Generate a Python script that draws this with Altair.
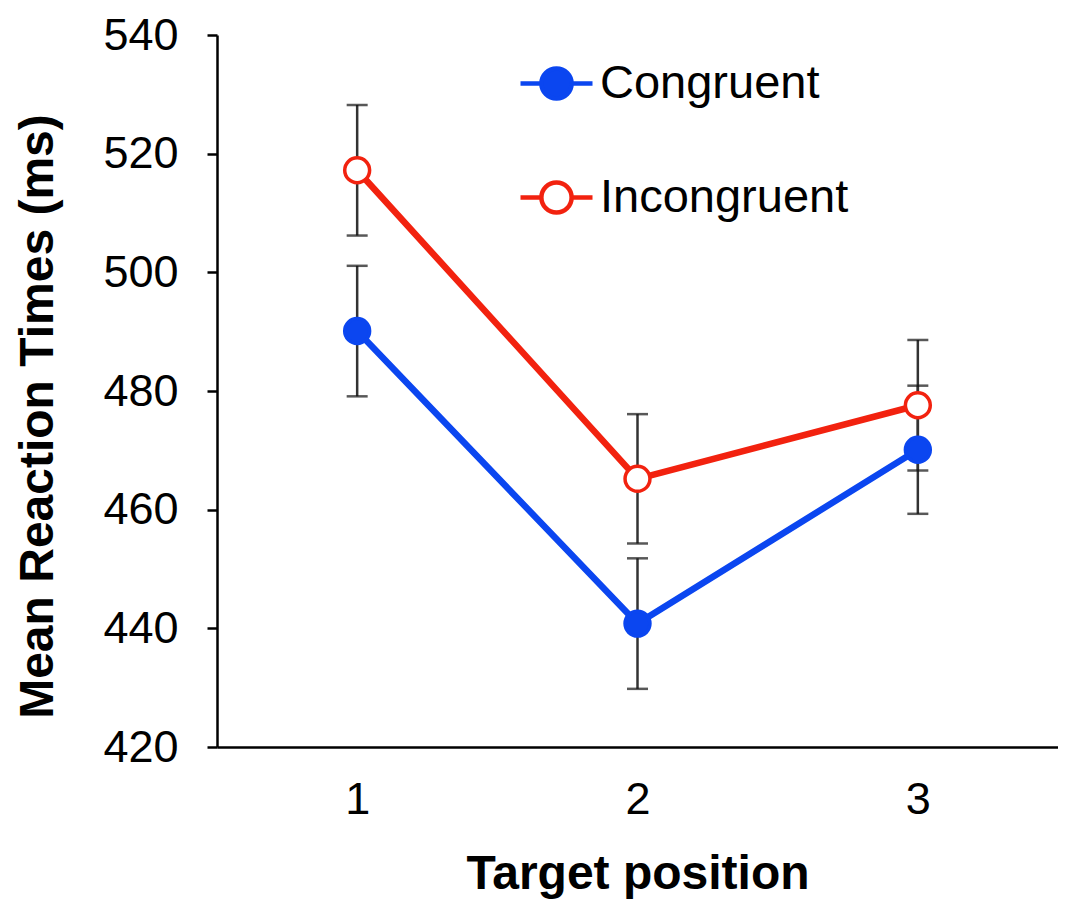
import altair as alt
import pandas as pd

positions = [1, 2, 3]
series_names = ["Congruent", "Incongruent"]
congruent_rt = [490.1, 440.8, 470.1]
incongruent_rt = [517.2, 465.2, 477.6]
congruent_err = [11.0, 11.0, 10.8]
incongruent_err = [11.0, 10.9, 11.0]
y_ticks = [420, 440, 460, 480, 500, 520, 540]
x_ticks = [1, 2, 3]

BLUE = "#0b46f0"
RED = "#f2220f"

PAD_TOP = 27
PLOT_H = 747 - 8 - PAD_TOP

rows = []
for name, vals, errs in [("Congruent", congruent_rt, congruent_err),
                         ("Incongruent", incongruent_rt, incongruent_err)]:
    for p, v, e in zip(positions, vals, errs):
        rows.append({"pos": p, "series": name, "rt": v, "lo": v - e, "hi": v + e})
df = pd.DataFrame(rows)

yscale = alt.Scale(domain=[420, 540], nice=False, zero=False)
x = alt.X("pos:Q", scale=alt.Scale(domain=[0.5, 3.5], nice=False, zero=False),
          axis=alt.Axis(values=x_ticks, format="d", title="Target position", ticks=False,
                        tickSize=0, labelPadding=30, titlePadding=28, grid=False))
y = alt.Y("rt:Q", scale=yscale,
          axis=alt.Axis(values=y_ticks, title="Mean Reaction Times (ms)", tickSize=10,
                        labelPadding=29, titlePadding=40, grid=False,
                        titleY=416 - 8 - PAD_TOP))

color_scale = alt.Scale(domain=series_names, range=[BLUE, RED])
fill_scale = alt.Scale(domain=series_names, range=[BLUE, "#ffffff"])

legend_path = ("M-1,0L-0.42,0M0.42,0L1,0"
               "M0.42,0A0.42,0.42 0 1,1 -0.42,0A0.42,0.42 0 1,1 0.42,0Z")
leg = alt.Legend(title=None, orient="none", legendX=301, legendY=20 - (PAD_TOP - 17),
                 symbolType=legend_path, symbolSize=5184,
                 symbolStrokeWidth=4.5, labelFontSize=47,
                 labelFont="Liberation Sans", labelColor="#000000",
                 labelOffset=5, rowPadding=51, labelLimit=400)

base = alt.Chart(df)

err_rule = base.mark_rule(color="#333333", strokeWidth=2.5).encode(
    x=x, y=alt.Y("lo:Q", scale=yscale), y2="hi:Q")
err_lo = base.mark_tick(color="#111111", thickness=2.5, size=21, orient="horizontal").encode(
    x="pos:Q", y="lo:Q")
err_hi = base.mark_tick(color="#111111", thickness=2.5, size=21, orient="horizontal").encode(
    x="pos:Q", y="hi:Q")

lines = base.mark_line(strokeWidth=6.5).encode(
    x=x, y=y,
    stroke=alt.Stroke("series:N", scale=color_scale, legend=leg),
    detail="series:N",
)

points = base.mark_point(size=620, strokeWidth=3.5, opacity=1, filled=False).encode(
    x=x, y=y,
    stroke=alt.Stroke("series:N", scale=color_scale, legend=leg),
    fill=alt.Fill("series:N", scale=fill_scale, legend=leg),
)

chart = alt.layer(err_rule, err_lo, err_hi, lines, points).properties(
    width=841, height=PLOT_H,
    autosize=alt.AutoSizeParams(type="none"),
    padding={"left": 209, "top": PAD_TOP, "right": 0, "bottom": 164},
).configure_view(stroke=None).configure_axis(
    domainColor="#000000", domainWidth=2.5, tickColor="#000000", tickWidth=2.5,
    labelFont="Liberation Sans", labelFontSize=45, labelColor="#000000",
    titleFont="Liberation Sans", titleFontSize=48, titleFontWeight="bold", titleColor="#000000",
)

chart.save("out.html", embed_options={"renderer": "svg", "actions": False})
